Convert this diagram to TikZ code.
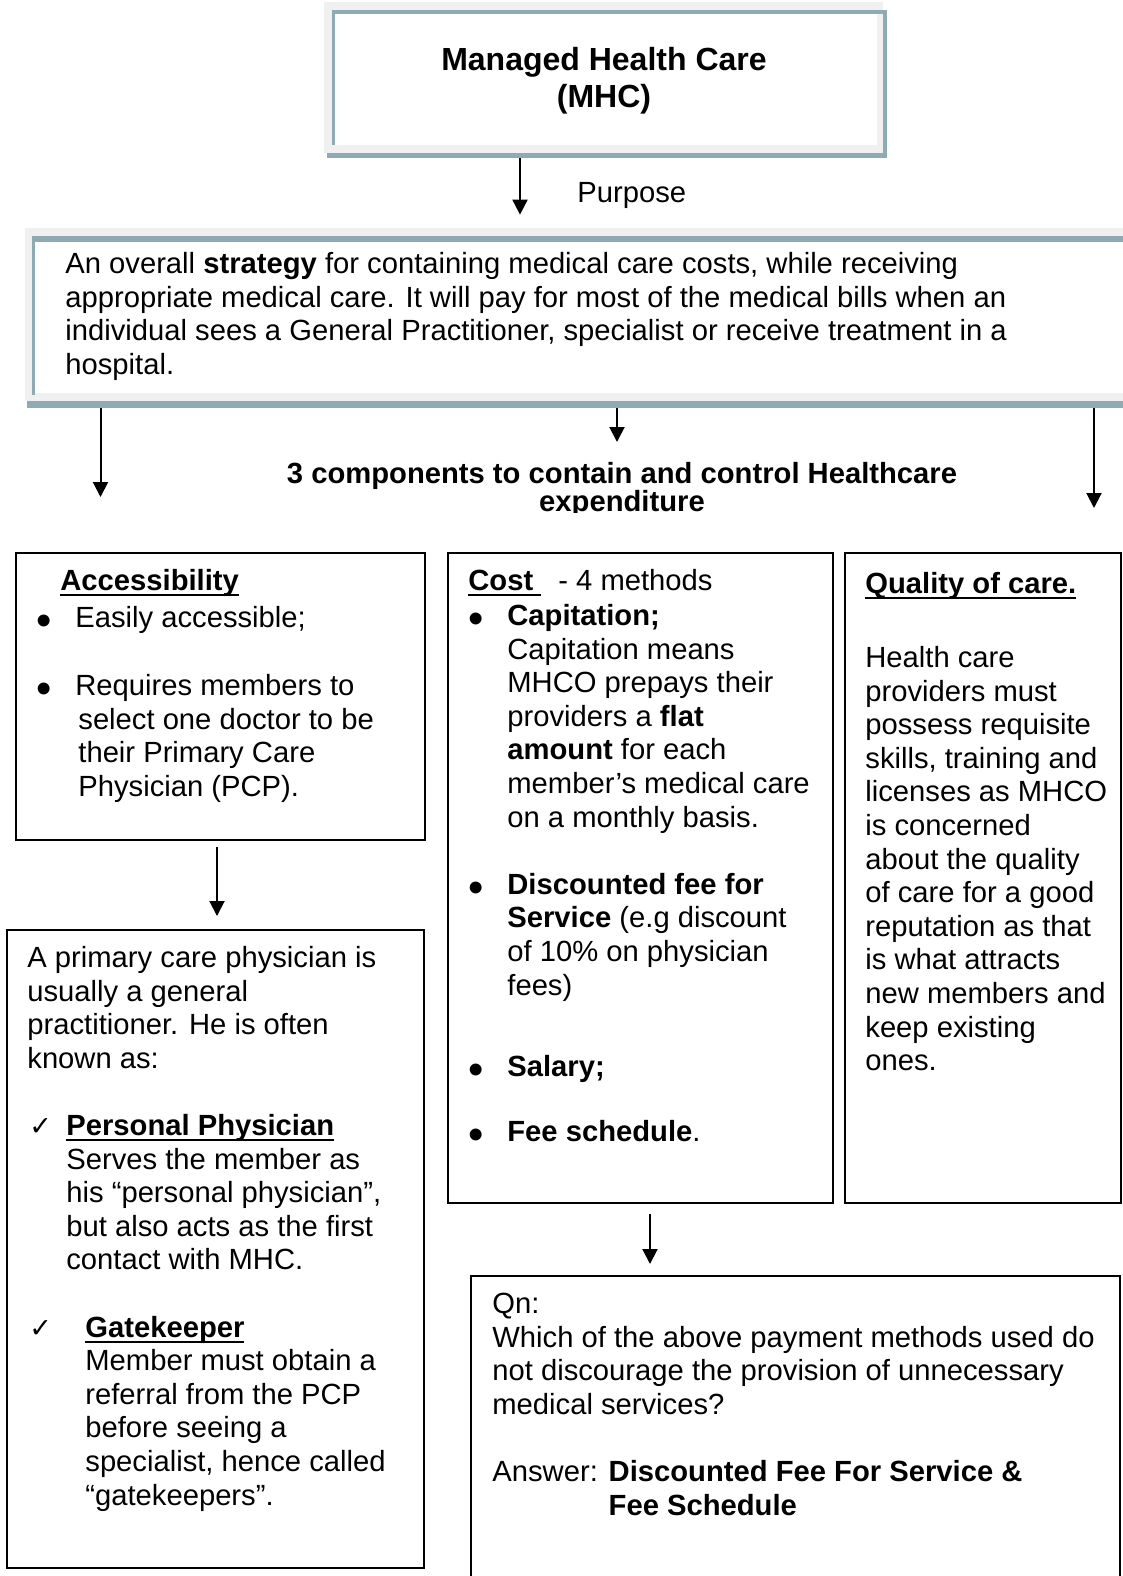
\documentclass[tikz,border=0pt]{standalone}
\usepackage{graphicx}
\usepackage{fontspec}
\setmainfont{Liberation Sans}
\newfontfamily\symfont{DejaVu Sans}
\usetikzlibrary{arrows.meta,fit}

\definecolor{framegray}{RGB}{240,240,240}
\definecolor{frameteal}{RGB}{143,170,178}

\newcommand\bodyfont{\fontsize{14.6pt}{16.8pt}\selectfont}
\newcommand\titlefont{\bfseries\fontsize{16pt}{18.5pt}\selectfont}
\newsavebox\ulbox
\newcommand\wul[1]{\leavevmode\sbox\ulbox{#1}\rlap{\rule[-3pt]{\wd\ulbox}{1.2pt}}\usebox\ulbox}
\newcommand\tick{\smash{\symfont\fontsize{13.5pt}{13.5pt}\selectfont ✓}}
\newcommand\bulletmark{\smash{\raisebox{-4pt}{\scalebox{1.5}{•}}}}
\newcommand\bul{\makebox[19.5pt][l]{\bulletmark}}
\newcommand\ind{\hspace*{19.5pt}}

\begin{document}
\begin{tikzpicture}[x=0.5pt,y=-0.5pt,
  box/.style={draw=black, line width=1pt, inner sep=0pt},
  area/.style={inner sep=0pt},
  txt/.style={anchor=north west, inner sep=0pt, align=left, font=\bodyfont},
  arr/.style={line width=1pt, -{Triangle[length=7.5pt,width=7.5pt]}}]

\useasboundingbox (0,0) rectangle (1123,1576);
\fill[white] (0,0) rectangle (1123,1576);
\clip (0,0) rectangle (1123,1576);

% --- framed title box
\node[area, fit={(324,2) (887,158)}] (mhc) {};
\fill[framegray] (324,2) rectangle (883,153);
\fill[frameteal] (332,10) rectangle (887,14);
\fill[frameteal] (883,10) rectangle (887,158);
\fill[frameteal] (327,153) rectangle (887,158);
\fill[frameteal] (332,10) rectangle (335,145);
\fill[white] (335,14) rectangle (877,145);
\node[anchor=north, inner sep=0pt, align=center, font=\titlefont] (ttl) at (604,44.1)
  {\strut Managed Health Care\\(MHC)};

% --- framed strategy box
\node[area, fit={(25,228) (1140,408)}] (strat) {};
\fill[framegray] (25,228) rectangle (1123,401);
\fill[frameteal] (32,236) rectangle (1123,242);
\fill[frameteal] (27,401) rectangle (1123,408);
\fill[frameteal] (32,236) rectangle (35,395);
\fill[white] (35,242) rectangle (1123,393);
\node[txt] (stxt) at (65,249.5)
  {\strut An overall \textbf{strategy} for containing medical care costs, while receiving\\
   appropriate medical care. It will pay for most of the medical bills when an\\
   individual sees a General Practitioner, specialist or receive treatment in a\\
   hospital.};

\node[txt] (purp) at (577,178.5) {\strut Purpose};

% --- heading of the three components (its frame cuts the second line)
\begin{scope}
  \clip (0,0) rectangle (1123,512);
  \node[anchor=north, inner sep=0pt, align=center, font=\bodyfont\bfseries] (comp) at (622,459.5)
    {\strut 3 components to contain and control Healthcare\\[-3pt]expenditure};
\end{scope}

% --- component boxes
\node[box, fit={(16,553) (425,840)}] (acc) {};
\node[box, fit={(448,553) (833,1203)}] (cost) {};
\node[box, fit={(845,553) (1121,1203)}] (qual) {};
\node[box, fit={(7,930) (424,1568)}] (pcp) {};
\node[box, fit={(471,1276) (1120,1620)}] (qn) {};

\node[txt] (acctxt) at (36,566.5)
  {\strut\hspace*{12pt}\wul{\textbf{Accessibility}}\\[1.75pt]
   \bul Easily accessible;\\[17.2pt]
   \bul Requires members to\\
   \hspace*{21pt}select one doctor to be\\
   \hspace*{21pt}their Primary Care\\
   \hspace*{21pt}Physician (PCP).};

\node[txt] (costtxt) at (468,566.5)
  {\strut\wul{\textbf{Cost\ }}\hspace{8.5pt}- 4 methods\\[0.7pt]
   \bul\textbf{Capitation;}\\
   \ind Capitation means\\
   \ind MHCO prepays their\\
   \ind providers a \textbf{flat}\\
   \ind\textbf{amount} for each\\
   \ind member’s medical care\\
   \ind on a monthly basis.\\[16.8pt]
   \bul\textbf{Discounted fee for}\\
   \ind\textbf{Service} (e.g discount\\
   \ind of 10\% on physician\\
   \ind fees)\\[23.8pt]
   \bul\textbf{Salary;}\\[15.8pt]
   \bul\textbf{Fee schedule}.};

\node[txt] (qualtxt) at (865,569.5)
  {\strut\wul{\textbf{Quality of care.}}\\[20.2pt]
   Health care\\
   providers must\\
   possess requisite\\
   skills, training and\\
   licenses as MHCO\\
   is concerned\\
   about the quality\\
   of care for a good\\
   reputation as that\\
   is what attracts\\
   new members and\\
   keep existing\\
   ones.};

\node[txt] (pcptxt) at (27,943.5)
  {\strut A primary care physician is\\
   usually a general\\
   practitioner. He is often\\
   known as:\\[16.8pt]
   \makebox[19.5pt][l]{\hspace*{1pt}\tick}\wul{\textbf{Personal Physician}}\\
   \ind Serves the member as\\
   \ind his “personal physician”,\\
   \ind but also acts as the first\\
   \ind contact with MHC.\\[16.8pt]
   \makebox[29pt][l]{\hspace*{1pt}\tick}\wul{\textbf{Gatekeeper}}\\
   \hspace*{29pt}Member must obtain a\\
   \hspace*{29pt}referral from the PCP\\
   \hspace*{29pt}before seeing a\\
   \hspace*{29pt}specialist, hence called\\
   \hspace*{29pt}“gatekeepers”.};

\node[txt] (qntxt) at (492,1289.5)
  {\strut Qn:\\
   Which of the above payment methods used do\\
   not discourage the provision of unnecessary\\
   medical services?\\[16.8pt]
   Answer: \textbf{Discounted Fee For Service \&}\\
   \phantom{Answer: }\textbf{Fee Schedule}};

% --- connectors
\coordinate (x1) at (520,0);
\draw[arr, shorten >=6.5pt] (mhc.south -| x1) -- (strat.north -| x1);

\coordinate (t2) at (100.5,497);
\coordinate (t3) at (617,442);
\coordinate (t4) at (1094,508);
\draw[arr] (strat.south -| t2) -- (t2);
\draw[arr] (strat.south -| t3) -- (t3);
\draw[arr] (strat.south -| t4) -- (t4);

\coordinate (x5) at (217,0);
\draw[arr, shorten <=3pt, shorten >=6.5pt] (acc.south -| x5) -- (pcp.north -| x5);

\coordinate (x6) at (650,0);
\draw[arr, shorten <=5pt, shorten >=5.5pt] (cost.south -| x6) -- (qn.north -| x6);
\end{tikzpicture}
\end{document}
